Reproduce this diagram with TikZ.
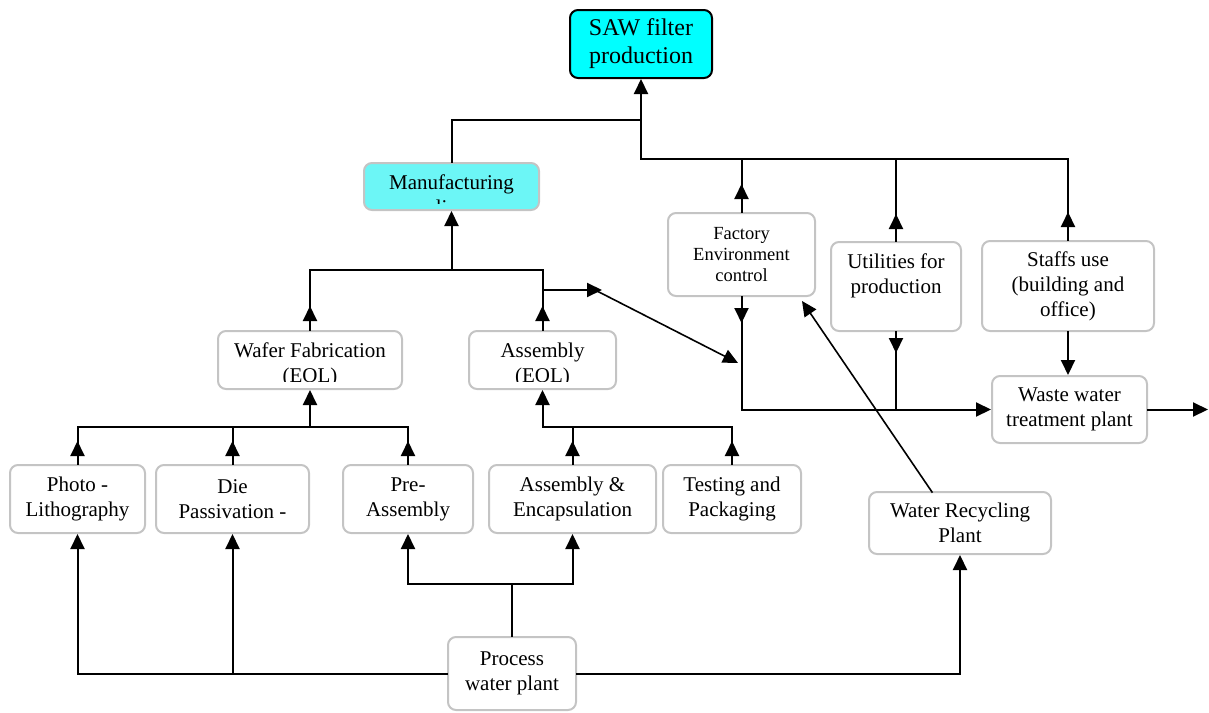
\documentclass[tikz,border=0pt]{standalone}
\usepackage{fontspec}
\setmainfont{Liberation Serif}
\usetikzlibrary{arrows.meta}
\definecolor{boxgray}{HTML}{C4C4C4}
\definecolor{sawfill}{HTML}{00FFFF}
\definecolor{manfill}{HTML}{6CF6F6}
\tikzset{
  ln/.style={line width=1pt, line cap=rect},
  arr/.style={ln, -{Triangle[length=7.5pt,width=7pt]}},
  box/.style={draw=boxgray, line width=1pt, rounded corners=4pt, fill=white,
    inner sep=0pt, align=center, font=\fontsize{10.5pt}{12.5pt}\selectfont},
  smalltext/.style={font=\fontsize{9.25pt}{10.5pt}\selectfont},
}
% text of a box whose second line is cut off by the box's lower edge
\newcommand{\cutlabel}[3]{%
  \node[align=center, inner sep=0pt, font=\fontsize{10.5pt}{12.5pt}\selectfont]
    at ([yshift=#2]#1.center) {#3};}
\begin{document}
\begin{tikzpicture}[x=0.5pt, y=-0.5pt]
\useasboundingbox (0,0) rectangle (1209,712);

% boxes
\node[box, draw=black, fill=sawfill, minimum width=71pt, minimum height=34pt,
      font=\fontsize{12pt}{14pt}\selectfont] (saw) at (641,44) {SAW filter\\production};
\node[box, fill=manfill, minimum width=87.5pt, minimum height=23.5pt,
      path picture={\clip ([shift={(1pt,-1pt)}]path picture bounding box.north west) rectangle
            ([shift={(-1pt,3.3pt)}]path picture bounding box.south east);
            \cutlabel{path picture bounding box}{-4.2pt}{Manufacturing\\line}}] (man) at (451.5,186.5) {};
\node[box, smalltext, minimum width=73.5pt, minimum height=41.5pt] (fac) at (741.5,254.5) {Factory\\Environment\\control};
\node[box, minimum width=65pt, minimum height=44.5pt] (util) at (896,286.5) {Utilities for\\production\\~};
\node[box, minimum width=86pt, minimum height=45pt] (staff) at (1068,286) {Staffs use\\(building and\\office)};
\node[box, minimum width=77.5pt, minimum height=33.5pt] (waste) at (1069.5,409.5) {Waste water\\treatment plant};
\node[box, minimum width=92pt, minimum height=29pt,
      path picture={\clip ([shift={(1pt,-1pt)}]path picture bounding box.north west) rectangle
            ([shift={(-1pt,4pt)}]path picture bounding box.south east);
            \cutlabel{path picture bounding box}{-2.5pt}{Wafer Fabrication\\(EOL)}}] (waf) at (310,360) {};
\node[box, minimum width=73.5pt, minimum height=29pt,
      path picture={\clip ([shift={(1pt,-1pt)}]path picture bounding box.north west) rectangle
            ([shift={(-1pt,4pt)}]path picture bounding box.south east);
            \cutlabel{path picture bounding box}{-2.5pt}{Assembly\\(EOL)}}] (asm) at (542.5,360) {};
\node[box, minimum width=67.5pt, minimum height=34pt] (photo) at (77.5,499) {Photo -\\Lithography};
\node[box, minimum width=76.5pt, minimum height=34pt] (die) at (232.5,499) {Die\\Passivation -};
\node[box, minimum width=65pt, minimum height=34pt] (pre) at (408,499) {Pre-\\Assembly};
\node[box, minimum width=83.5pt, minimum height=34pt] (ae) at (572.5,499) {Assembly \&\\Encapsulation};
\node[box, minimum width=69pt, minimum height=34pt] (test) at (732,499) {Testing and\\Packaging};
\node[box, minimum width=91pt, minimum height=31pt] (rec) at (960,523) {Water Recycling\\Plant};
\node[box, minimum width=64pt, minimum height=36.5pt] (proc) at (512,673.5) {Process\\water plant};

% junctions and free ends
\coordinate (tA) at (641,120);
\coordinate (tB) at (641,159);
\coordinate (tE) at (1068,159);
\coordinate (mJ) at (451.5,270);
\coordinate (a1) at (542.5,290);
\coordinate (a2) at (602,290);
\coordinate (d1) at (597,291);
\coordinate (d2) at (738,363);
\coordinate (r1) at (932,492);
\coordinate (r2) at (802,301);
\coordinate (out) at (1208,409.5);
\coordinate (wJ) at (310,427);
\coordinate (aJ) at (542.5,427);
\coordinate (pJ) at (512,584);

% top level
\draw[ln] (man.north) |- (tA);
\draw[arr] (tB) -- (saw.south);
\draw[ln] (tB) -- (tE) -- (staff.north);
\draw[ln] (fac.north) -- (fac.north |- tB);
\draw[arr] (fac.north) -- ++(0,-28);
\draw[ln] (util.north) -- (util.north |- tB);
\draw[arr] (util.north) -- ++(0,-27);
\draw[arr] (staff.north) -- ++(0,-28);

% waste water
\draw[arr] (fac.south) |- (waste.west);
\draw[arr] (fac.south) -- ++(0,26);
\draw[ln] (util.south) -- (util.south |- waste.west);
\draw[arr] (util.south) -- ++(0,21);
\draw[arr] (staff.south) -- (staff.south |- waste.north);
\draw[arr] (waste.east) -- (out);

% manufacturing branches
\draw[arr] (mJ) -- (man.south);
\draw[ln] (waf.north) |- (asm.north |- mJ) -- (asm.north);
\draw[arr] (waf.north) -- ++(0,-24);
\draw[arr] (asm.north) -- ++(0,-24);
\draw[arr] (a1) -- (a2);
\draw[arr, line width=0.8pt] (d1) -- (d2);
\draw[arr, line width=0.8pt] (r1) -- (r2);

% wafer fabrication steps
\draw[arr] (wJ) -- (waf.south);
\draw[ln] (photo.north) |- (pre.north |- wJ) -- (pre.north);
\draw[ln] (die.north) -- (die.north |- wJ);
\draw[arr] (photo.north) -- ++(0,-23);
\draw[arr] (die.north) -- ++(0,-23);
\draw[arr] (pre.north) -- ++(0,-23);

% assembly steps
\draw[arr] (aJ) -- (asm.south);
\draw[ln] (aJ) -- (test.north |- aJ) -- (test.north);
\draw[ln] (ae.north) -- (ae.north |- aJ);
\draw[arr] (ae.north) -- ++(0,-23);
\draw[arr] (test.north) -- ++(0,-23);

% process water supply
\draw[arr] (proc.west) -| (photo.south);
\draw[arr] (die.south |- proc.west) -- (die.south);
\draw[arr] (proc.east) -| (rec.south);
\draw[ln] (proc.north) -- (pJ);
\draw[arr] (pJ) -| (pre.south);
\draw[arr] (pJ) -| (ae.south);
\end{tikzpicture}
\end{document}
